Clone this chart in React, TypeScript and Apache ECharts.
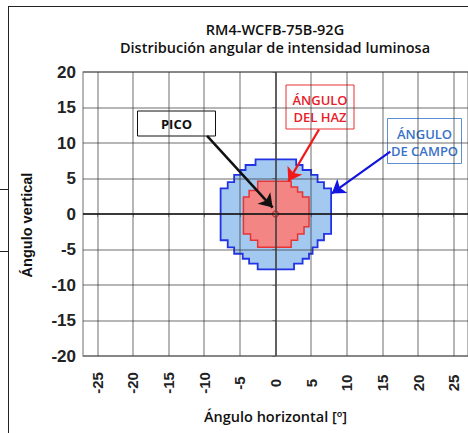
import React, { useEffect, useRef } from "react";
import * as echarts from "echarts";

const TITLE_LINE_1 = "RM4-WCFB-75B-92G";
const TITLE_LINE_2 = "Distribución angular de intensidad luminosa";
const X_NAME = "Ángulo horizontal [º]";
const Y_NAME = "Ángulo vertical";
const X_TICKS = [-25, -20, -15, -10, -5, 0, 5, 10, 15, 20, 25];
const Y_TICKS = [-20, -15, -10, -5, 0, 5, 10, 15, 20];

// Field angle outline (blue), degrees [x, y]
const FIELD_OUTLINE: number[][] = [
  [-2.8, 7.7], [2.9, 7.7], [2.9, 6.9], [3.8, 6.9], [3.8, 6.2], [5.0, 6.2], [5.0, 5.5], [5.9, 5.5],
  [5.9, 4.5], [6.8, 4.5], [6.8, 3.6], [7.8, 3.6], [7.8, -2.8], [6.8, -2.8], [6.8, -3.7], [5.9, -3.7],
  [5.9, -4.7], [5.2, -4.7], [5.2, -5.6], [4.7, -5.6], [4.7, -6.3], [3.8, -6.3], [3.8, -7.0], [2.6, -7.0],
  [2.6, -7.8], [-2.5, -7.8], [-2.5, -7.0], [-3.7, -7.0], [-3.7, -6.3], [-4.6, -6.3], [-4.6, -5.6],
  [-5.8, -5.6], [-5.8, -4.7], [-6.7, -4.7], [-6.7, -3.7], [-7.7, -3.7], [-7.7, 3.6], [-6.7, 3.6],
  [-6.7, 4.5], [-5.8, 4.5], [-5.8, 5.5], [-4.9, 5.5], [-4.9, 6.2], [-4.2, 6.2], [-4.2, 6.9], [-2.8, 6.9],
];

// Beam angle outline (red), degrees [x, y]
const BEAM_OUTLINE: number[][] = [
  [-2.5, 4.6], [2.2, 4.6], [2.2, 3.8], [3.1, 3.8], [3.1, 3.1], [3.8, 3.1], [3.8, 2.4], [4.7, 2.4],
  [4.7, -1.8], [4.0, -1.8], [4.0, -2.8], [3.1, -2.8], [3.1, -3.7], [2.2, -3.7], [2.2, -4.7],
  [-2.5, -4.7], [-2.5, -3.7], [-3.5, -3.7], [-3.5, -2.8], [-4.5, -2.8], [-4.5, 2.4], [-3.7, 2.4],
  [-3.7, 3.3], [-2.5, 3.3],
];

const PEAK: number[][] = [[0, 0]];

// Arrows: [start, end] in degrees
const PEAK_ARROW = [[-9.6, 11.0], [-0.4, 0.9]];
const BEAM_ARROW = [[6.1, 11.9], [1.8, 4.6]];
const FIELD_ARROW = [[16.1, 8.8], [7.9, 2.9]];

const LABEL_PEAK = "PICO";
const LABEL_BEAM = "ÁNGULO\nDEL HAZ";
const LABEL_FIELD = "ÁNGULO\nDE CAMPO";

const GRID_COLOR = "rgba(50,50,50,0.48)";

function polygonSeries(points: number[][], fill: string, stroke: string, lw: number) {
  return {
    type: "custom",
    z: -1,
    silent: true,
    data: points,
    encode: { x: 0, y: 1 },
    renderItem: (params: any, api: any) => {
      if (params.dataIndex !== 0) return null;
      return {
        type: "polygon",
        shape: { points: points.map((p) => api.coord(p)) },
        style: { fill, stroke, lineWidth: lw },
      };
    },
  };
}

function arrowItem(a: number[][], color: string, width: number) {
  return [
    { coord: a[0], lineStyle: { color, width, type: "solid" } },
    { coord: a[1] },
  ];
}

export default function App() {
  const ref = useRef<HTMLDivElement>(null);
  useEffect(() => {
    if (!ref.current) return;
    const chart = echarts.init(ref.current, null, { renderer: "svg" });
    const labelFont = "Open Sans";
    const titleStyle = { fontFamily: labelFont, fontWeight: 600, fontSize: 14.5, color: "#111" };
    const option: any = {
      animation: false,
      backgroundColor: "#fff",
      title: {
        text: TITLE_LINE_1,
        subtext: TITLE_LINE_2,
        left: 270,
        top: 17,
        itemGap: 3,
        textAlign: "center",
        textStyle: titleStyle,
        subtextStyle: titleStyle,
      },
      grid: { left: 83, top: 72, width: 386, height: 284, show: true, borderColor: GRID_COLOR, borderWidth: 1.5 },
      xAxis: {
        type: "value",
        min: -27,
        max: 27,
        name: X_NAME,
        nameLocation: "middle",
        nameGap: 53,
        nameTextStyle: { fontFamily: labelFont, fontWeight: 600, fontSize: 14.5, color: "#111" },
        axisLine: { show: false },
        axisTick: { show: true, customValues: X_TICKS, length: 3, lineStyle: { color: GRID_COLOR } },
        axisLabel: {
          customValues: X_TICKS,
          rotate: 90,
          align: "center",
          verticalAlign: "middle",
          margin: 27,
          fontFamily: "Liberation Sans",
          fontWeight: "bold",
          fontSize: 15,
          color: "#222",
        },
        splitLine: { show: true, lineStyle: { color: GRID_COLOR, width: 1.5 } },
      },
      yAxis: {
        type: "value",
        min: Y_TICKS[0],
        max: Y_TICKS[Y_TICKS.length - 1],
        interval: 5,
        axisLine: { show: false },
        axisTick: { show: true, length: 3, lineStyle: { color: GRID_COLOR } },
        axisLabel: { margin: 7, fontFamily: "Liberation Sans", fontWeight: "bold", fontSize: 17, color: "#222" },
        splitLine: { show: true, lineStyle: { color: GRID_COLOR, width: 1.5 } },
      },
      series: [
        polygonSeries(FIELD_OUTLINE, "#a3c9f1", "#2233e6", 1.8),
        polygonSeries(BEAM_OUTLINE, "#f48585", "#e53535", 1.5),
        {
          type: "scatter",
          data: PEAK,
          symbolSize: 0,
          silent: true,
          z: 2,
          markLine: {
            silent: true,
            symbol: ["none", "none"],
            label: { show: false },
            data: [
              { yAxis: 0, lineStyle: { color: "#111", width: 1.5, type: "solid" } },
              { xAxis: 0, lineStyle: { color: "#444", width: 1.5, type: "solid" } },
            ],
          },
        },
        {
          type: "scatter",
          data: PEAK,
          symbol: "circle",
          symbolSize: 6,
          itemStyle: { color: "#f48585", borderColor: "#c01818", borderWidth: 1.2 },
          z: 3,
          markLine: {
            silent: true,
            symbol: ["none", "arrow"],
            symbolSize: 13,
            label: { show: false },
            data: [
              arrowItem(PEAK_ARROW, "#111", 2.5),
              arrowItem(BEAM_ARROW, "#f01818", 2.2),
              arrowItem(FIELD_ARROW, "#1414e0", 2.2),
            ],
          },
        },
      ],
      graphic: [
        { type: "line", shape: { x1: 8, y1: 6.5, x2: 468, y2: 6.5 }, style: { stroke: "#222", lineWidth: 1 } },
        { type: "line", shape: { x1: 8.5, y1: 6, x2: 8.5, y2: 433 }, style: { stroke: "#222", lineWidth: 1 } },
        { type: "line", shape: { x1: 0, y1: 189.5, x2: 8, y2: 189.5 }, style: { stroke: "#222", lineWidth: 1 } },
        { type: "line", shape: { x1: 0, y1: 251.5, x2: 8, y2: 251.5 }, style: { stroke: "#222", lineWidth: 1 } },
        {
          type: "text",
          x: 27,
          y: 225,
          rotation: Math.PI / 2,
          style: {
            text: Y_NAME,
            fill: "#111",
            font: "bold 14.5px 'Liberation Sans'",
            align: "center",
            verticalAlign: "middle",
          },
        },
        {
          type: "group",
          z: 10,
          children: [
            { type: "rect", shape: { x: 137.5, y: 111, width: 78, height: 25 }, style: { fill: "#fff", stroke: "#111", lineWidth: 1 } },
            { type: "text", x: 176.5, y: 124, style: { text: LABEL_PEAK, fill: "#111", font: `bold 13px '${labelFont}'`, align: "center", verticalAlign: "middle" } },
            { type: "rect", shape: { x: 286, y: 85, width: 68, height: 44 }, style: { fill: "#fff", stroke: "#e83030", lineWidth: 1 } },
            { type: "text", x: 320, y: 108, style: { text: LABEL_BEAM, fill: "#e8202a", font: `600 13px '${labelFont}'`, lineHeight: 17, align: "center", verticalAlign: "middle" } },
            { type: "rect", shape: { x: 387.5, y: 118.5, width: 74, height: 45 }, style: { fill: "#fff", stroke: "#5b8fd6", lineWidth: 1 } },
            { type: "text", x: 424.5, y: 142, style: { text: LABEL_FIELD, fill: "#3a72c8", font: `600 13px '${labelFont}'`, lineHeight: 17, align: "center", verticalAlign: "middle" } },
          ],
        },
      ],
    };
    chart.setOption(option);
    return () => chart.dispose();
  }, []);
  return <div ref={ref} style={{ position: "fixed", left: 0, top: 0, width: 468, height: 433 }} />;
}
